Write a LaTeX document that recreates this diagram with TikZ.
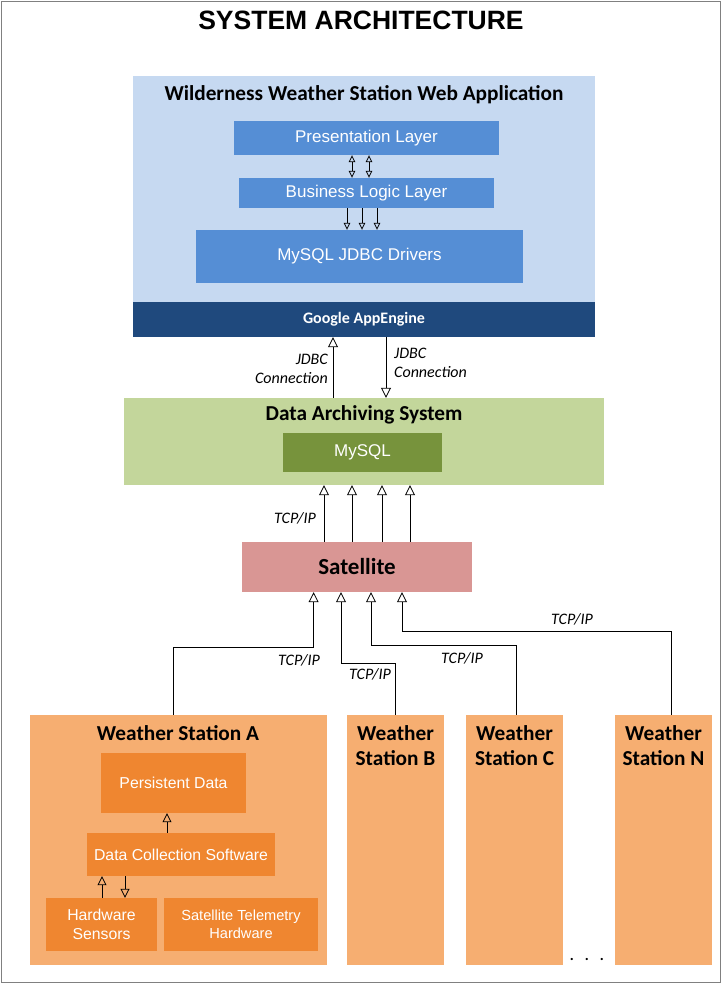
\documentclass[tikz,border=0pt]{standalone}
\usepackage{fontspec}
\setmainfont{Liberation Sans}
\newfontfamily\calibri{Carlito}
\usetikzlibrary{arrows.meta}

\definecolor{appblue}{HTML}{C6D9F1}
\definecolor{layerblue}{HTML}{558ED5}
\definecolor{gaeblue}{HTML}{1F497D}
\definecolor{archgreen}{HTML}{C3D69B}
\definecolor{sqlgreen}{HTML}{77933C}
\definecolor{satred}{HTML}{D99694}
\definecolor{stationorange}{HTML}{F6AE71}
\definecolor{partorange}{HTML}{EF8630}

\tikzset{
  box/.style={rectangle, inner sep=0pt, draw=none, align=center},
  layer/.style={box, fill=layerblue, text=white, font=\fontsize{17}{20}\selectfont},
  part/.style={box, fill=partorange, text=white, font=\fontsize{15.8}{19}\selectfont},
  station/.style={box, fill=stationorange, minimum height=250pt},
  heading/.style={inner sep=0pt, align=center, font=\calibri\bfseries\fontsize{21.3}{25}\selectfont},
  netlabel/.style={inner sep=0pt, font=\calibri\itshape\fontsize{16}{19}\selectfont},
  bigarrow/.style={-{Triangle[open,width=10pt,length=10pt]}, line width=0.8pt},
  midarrow/.style={-{Triangle[open,width=9pt,length=9pt]}, line width=0.8pt},
  smallarrow/.style={-{Triangle[open,width=6.5pt,length=7pt]}, line width=0.8pt},
  smalldouble/.style={{Triangle[open,width=6.5pt,length=7pt]}-{Triangle[open,width=6.5pt,length=7pt]}, line width=0.8pt}
}

\begin{document}
\begin{tikzpicture}[x=1pt, y=-1pt]
  \useasboundingbox (0,0) rectangle (722,984);
  \draw[gray, line width=1.5pt] (1.5,1.5) rectangle (720.5,982.5);

  \node[inner sep=0pt, font=\bfseries\fontsize{26.5}{30}\selectfont] (title) at (361,20) {SYSTEM ARCHITECTURE};

  % web application
  \node[box, fill=appblue, minimum width=462pt, minimum height=226pt] (webapp) at (364,189) {};
  \node[heading] (webname) at (364,95) {Wilderness Weather Station Web Application};
  \node[layer, minimum width=265pt, minimum height=34pt] (pres) at (366.5,138) {Presentation Layer};
  \node[layer, minimum width=255pt, minimum height=30pt] (biz) at (366.5,193) {Business Logic Layer};
  \node[layer, minimum width=327pt, minimum height=53pt] (jdbc) at (359.5,256.5) {MySQL JDBC Drivers};
  \node[box, fill=gaeblue, text=white, minimum width=462pt, minimum height=35pt,
        font=\calibri\bfseries\fontsize{16}{19}\selectfont] (gae) at (364,319.5) {Google AppEngine};

  \foreach \dx in {-14.5,2.5}
    \draw[smalldouble] ([xshift=\dx pt]pres.south) -- ([xshift=\dx pt]pres.south |- biz.north);
  \foreach \dx in {-19.5,-4.5,10.5}
    \draw[smallarrow] ([xshift=\dx pt]biz.south) -- ([xshift=\dx pt]biz.south |- jdbc.north);

  % data archiving
  \node[box, fill=archgreen, minimum width=480pt, minimum height=87pt] (das) at (364,441.5) {};
  \node[heading] (dasname) at (364,415) {Data Archiving System};
  \node[box, fill=sqlgreen, text=white, minimum width=159pt, minimum height=39pt,
        font=\fontsize{17}{20}\selectfont] (mysql) at (362.5,452.5) {MySQL};

  \draw[bigarrow] ([xshift=-31pt]gae.south |- das.north) -- ([xshift=-31pt]gae.south);
  \draw[bigarrow] ([xshift=22pt]gae.south) -- ([xshift=22pt]gae.south |- das.north);
  \node[netlabel, anchor=east, align=right] (jdbcup) at (328,368.5) {JDBC\\Connection};
  \node[netlabel, anchor=west, align=left] (jdbcdown) at (394,362.5) {JDBC\\Connection};

  % satellite
  \node[box, fill=satred, minimum width=230pt, minimum height=50pt,
        font=\calibri\bfseries\fontsize{23}{27}\selectfont] (sat) at (357,567) {Satellite};
  \foreach \dx in {-33,-5,25,53}
    \draw[bigarrow] ([xshift=\dx pt]sat.north) -- ([xshift=\dx pt]sat.north |- das.south);
  \node[netlabel] (tcpsat) at (295,518) {TCP/IP};

  % weather stations
  \node[station, minimum width=297pt] (wsA) at (178.5,840) {};
  \node[heading] (wsAname) at (178,733) {Weather Station A};
  \node[part, minimum width=145pt, minimum height=60pt] (pers) at (173.5,783) {Persistent Data};
  \node[part, minimum width=188pt, minimum height=43pt] (dcs) at (181,854.5) {Data Collection Software};
  \node[part, minimum width=111pt, minimum height=53pt] (hws) at (101.5,924.5) {Hardware\\Sensors};
  \node[part, minimum width=154pt, minimum height=53pt,
        font=\fontsize{14.6}{18}\selectfont] (sth) at (241,924.5) {Satellite Telemetry\\Hardware};

  \draw[midarrow] ([xshift=-14pt]dcs.north) -- ([xshift=-14pt]dcs.north |- pers.south);
  \draw[midarrow] ([xshift=-79pt]dcs.south |- hws.north) -- ([xshift=-79pt]dcs.south);
  \draw[midarrow] ([xshift=-56pt]dcs.south) -- ([xshift=-56pt]dcs.south |- hws.north);

  \node[station, minimum width=97pt] (wsB) at (395.5,840) {};
  \node[station, minimum width=97pt] (wsC) at (514.5,840) {};
  \node[station, minimum width=97pt] (wsN) at (663.5,840) {};
  \node[heading] (wsBname) at ([yshift=-30.5pt]wsB.north) {Weather\\Station B};
  \node[heading] (wsCname) at ([yshift=-30.5pt]wsC.north) {Weather\\Station C};
  \node[heading] (wsNname) at ([yshift=-30.5pt]wsN.north) {Weather\\Station N};
  \node[inner sep=0pt, font=\calibri\bfseries\fontsize{15}{18}\selectfont] (dots) at (587,959)
    {.\hspace{11pt}.\hspace{11pt}.};

  % links to the satellite
  \draw[bigarrow] ([xshift=-5.5pt]wsA.north) -- ++(0,-67) -| ([xshift=-43.4pt]sat.south);
  \draw[bigarrow] (wsB.north) -- ++(0,-51) -| ([xshift=-16pt]sat.south);
  \draw[bigarrow] ([xshift=1.5pt]wsC.north) -- ++(0,-69) -| ([xshift=14pt]sat.south);
  \draw[bigarrow] ([xshift=7.5pt]wsN.north) -- ++(0,-83) -| ([xshift=45pt]sat.south);
  \node[netlabel] (tcpA) at (299,660) {TCP/IP};
  \node[netlabel] (tcpB) at (370,674) {TCP/IP};
  \node[netlabel] (tcpC) at (462,658) {TCP/IP};
  \node[netlabel] (tcpN) at (572,619) {TCP/IP};
\end{tikzpicture}
\end{document}
